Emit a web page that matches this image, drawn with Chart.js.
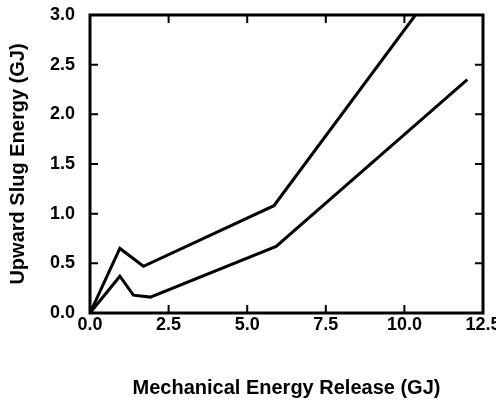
<!DOCTYPE html>
<html lang="en">
<head>
    <meta charset="UTF-8">
    <title>Upward Slug Energy</title>
    <script src="https://cdn.jsdelivr.net/npm/chart.js@4.4.1/dist/chart.umd.min.js"></script>
    <style>
        html, body { margin: 0; padding: 0; background: #fff; }
        #wrap { width: 496px; height: 402px; }
    </style>
</head>
<body>
<div id="wrap"><canvas id="myChart" width="496" height="402"></canvas></div>

<script>
    // values
    const upperX = [0, 0.95, 1.7, 5.85, 10.35];
    const upperY = [0, 0.65, 0.47, 1.08, 3.0];
    const lowerX = [0, 0.95, 1.38, 1.92, 5.92, 12.0];
    const lowerY = [0, 0.37, 0.18, 0.16, 0.67, 2.35];

    const xTicks = [0, 2.5, 5, 7.5, 10, 12.5];
    const yTicks = [0, 0.5, 1, 1.5, 2, 2.5, 3];

    const xTitle = 'Mechanical Energy Release (GJ)';
    const yTitle = 'Upward Slug Energy (GJ)';

    function toPoints(xs, ys) {
        return xs.map(function (x, i) { return { x: x, y: ys[i] }; });
    }

    // box around the plot with inward tick marks on all four sides
    const frame = {
        id: 'frame',
        afterDraw: function (chart) {
            const ctx = chart.ctx;
            const a = chart.chartArea;
            const xs = chart.scales.x, ys = chart.scales.y;
            const len = 8;
            ctx.save();
            ctx.strokeStyle = '#000';
            ctx.lineWidth = 3;
            ctx.strokeRect(a.left, a.top, a.right - a.left, a.bottom - a.top);
            ctx.lineWidth = 2;
            ctx.beginPath();
            xTicks.slice(1, -1).forEach(function (v) {
                const px = xs.getPixelForValue(v);
                ctx.moveTo(px, a.bottom); ctx.lineTo(px, a.bottom - len);
                ctx.moveTo(px, a.top); ctx.lineTo(px, a.top + len);
            });
            yTicks.slice(1, -1).forEach(function (v) {
                const py = ys.getPixelForValue(v);
                ctx.moveTo(a.left, py); ctx.lineTo(a.left + len, py);
                ctx.moveTo(a.right, py); ctx.lineTo(a.right - len, py);
            });
            ctx.stroke();
            ctx.restore();
        }
    };

    const lineStyle = {
        borderColor: '#000',
        borderWidth: 3,
        pointRadius: 0,
        showLine: true,
        tension: 0,
        fill: false
    };

    const tickFont = { family: 'Liberation Sans', size: 18, weight: 'bold' };
    const titleFont = { family: 'Liberation Sans', size: 20, weight: 'bold' };

    const ctx = document.getElementById('myChart').getContext('2d');
    const myChart = new Chart(ctx, {
        type: 'scatter',
        data: {
            datasets: [
                Object.assign({ label: 'upper', data: toPoints(upperX, upperY) }, lineStyle),
                Object.assign({ label: 'lower', data: toPoints(lowerX, lowerY) }, lineStyle)
            ]
        },
        options: {
            responsive: false,
            animation: false,
            layout: { padding: { top: 15, right: 13, left: 0, bottom: 0 } },
            plugins: { legend: { display: false }, tooltip: { enabled: false } },
            scales: {
                x: {
                    type: 'linear',
                    min: 0,
                    max: 12.5,
                    afterBuildTicks: function (s) { s.ticks = xTicks.map(function (v) { return { value: v }; }); },
                    afterFit: function (s) { s.height = 89; s.paddingLeft = 0; s.paddingRight = 0; },
                    grid: { display: false, drawTicks: false },
                    border: { display: false },
                    ticks: {
                        color: '#000',
                        padding: 1,
                        maxRotation: 0,
                        font: tickFont,
                        callback: function (v) { return Number(v).toFixed(1); }
                    },
                    title: {
                        display: true,
                        text: xTitle,
                        color: '#000',
                        padding: { top: 0, bottom: 2 },
                        font: titleFont
                    }
                },
                y: {
                    type: 'linear',
                    min: 0,
                    max: 3,
                    afterBuildTicks: function (s) { s.ticks = yTicks.map(function (v) { return { value: v }; }); },
                    afterFit: function (s) { s.width = 90; s.paddingTop = 0; s.paddingBottom = 0; },
                    grid: { display: false, drawTicks: false },
                    border: { display: false },
                    ticks: {
                        color: '#000',
                        padding: 15,
                        font: tickFont,
                        callback: function (v) { return Number(v).toFixed(1); }
                    },
                    title: {
                        display: true,
                        text: yTitle,
                        color: '#000',
                        padding: { top: 6, bottom: 0 },
                        font: titleFont
                    }
                }
            }
        },
        plugins: [frame]
    });
</script>
</body>
</html>
